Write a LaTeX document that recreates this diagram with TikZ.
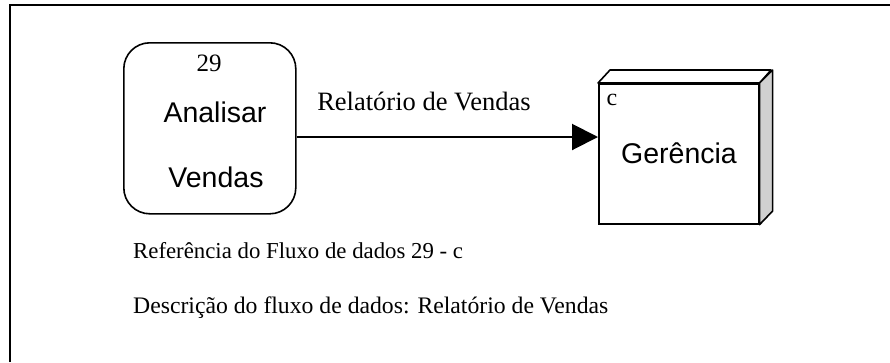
\documentclass[tikz,border=0pt]{standalone}
\usepackage{fontspec}
\setmainfont{Liberation Serif}
\newfontfamily\arialfont{Liberation Sans}
\usetikzlibrary{arrows.meta}
\definecolor{sidegray}{HTML}{D0D0D0}
\begin{document}
\begin{tikzpicture}[x=1pt,y=-1pt,
  serif/.style={font=\fontsize{23.7}{26}\selectfont, inner sep=0pt},
  sans/.style={font=\arialfont\fontsize{28.5}{31}\selectfont, inner sep=0pt},
  outline/.style={line width=1.6pt},
  frame/.style={line width=2pt}]
\useasboundingbox (0,0) rectangle (890,362);
\coordinate (fbl) at (10,362);
\coordinate (ftl) at (10,5);
\coordinate (ftr) at (890,5);
\draw[frame] (fbl) -- (ftl) -- (ftr);
% process
\node[draw, outline, rounded corners=26pt, minimum width=172pt, minimum height=171pt, anchor=north west, inner sep=0pt] (proc) at (123,42) {};
\node[serif, font=\fontsize{25}{27}\selectfont] (pid) at (209,63) {29};
\node[sans] (pname1) at (215,112) {Analisar};
\node[sans] (pname2) at (216,177) {Vendas};
% external entity
\node[draw, outline, fill=white, minimum width=160pt, minimum height=140pt, anchor=north west, inner sep=0pt] (ent) at (598,83) {};
\draw[outline, fill=white, line join=round] (ent.north west) -- ++(12,-13) -- ++(161,0) -- (ent.north east) -- cycle;
\draw[outline, fill=sidegray, line join=round] (ent.north east) -- ++(13,-13) -- ++(0,141) -- (ent.south east) -- cycle;
\node[serif, font=\fontsize{24}{26}\selectfont] (eid) at (612,100) {c};
\node[sans] (ename) at (679,153) {Gerência};
% flow
\draw[line width=2pt, -{Triangle[length=26pt,width=26pt]}] (proc.east |- 0,137) -- (ent.west |- 0,137);
\node[serif, font=\fontsize{26.5}{29}\selectfont] (flowlbl) at (424,101) {Relatório de Vendas};
% descriptions
\node[serif, font=\fontsize{22.8}{25}\selectfont, anchor=base west] (ref) at (133,258) {Referência do Fluxo de dados 29 - c};
\node[serif, anchor=base west] (desc) at (133,313) {Descrição do fluxo de dados: Relatório de Vendas};
\end{tikzpicture}
\end{document}
